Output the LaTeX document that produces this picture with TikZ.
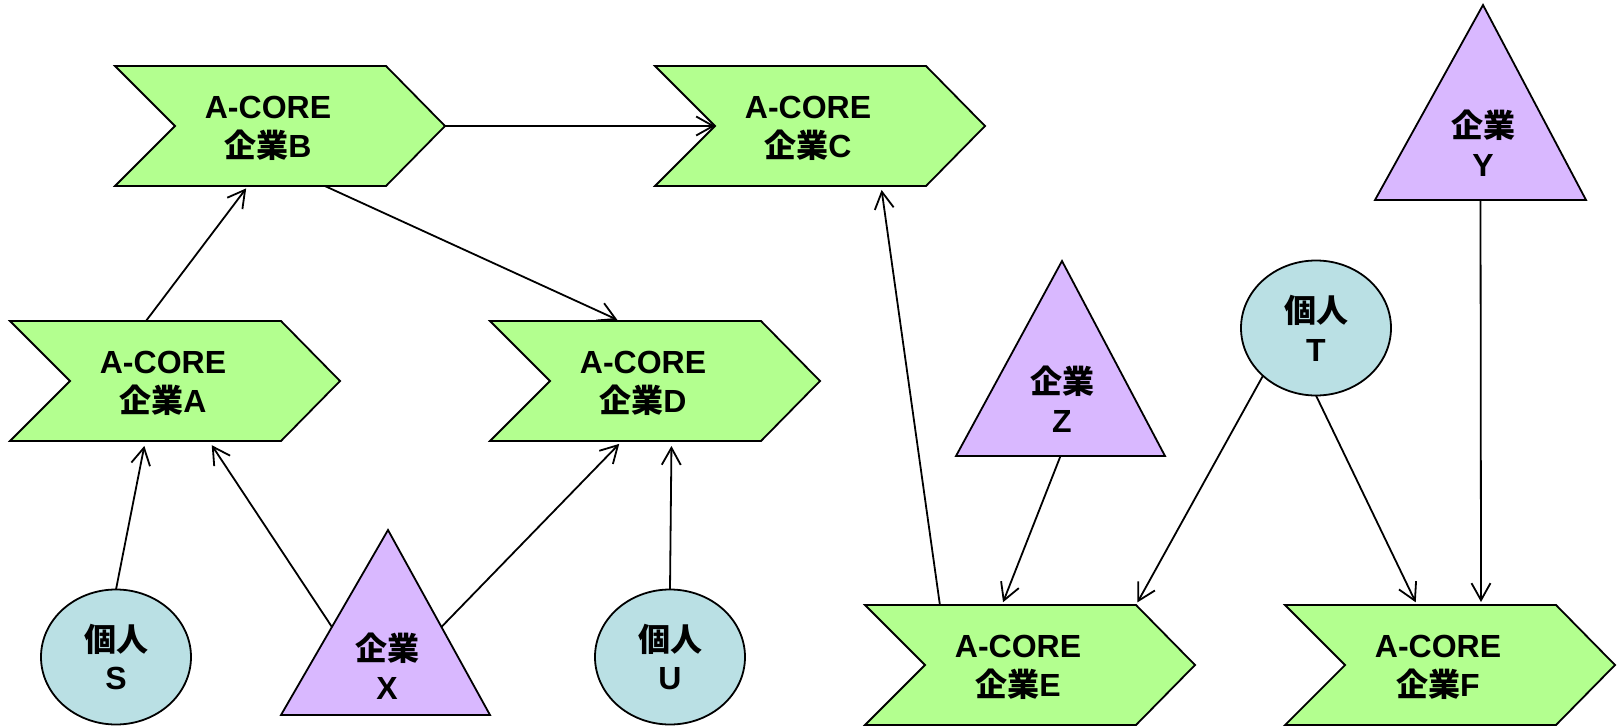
\documentclass[tikz,border=0pt]{standalone}
\usepackage{fontspec}
\setmainfont{Liberation Sans}
\newfontfamily\cjk{Noto Sans CJK JP}
\usetikzlibrary{arrows.meta,calc,shapes.geometric}
\definecolor{chevgreen}{RGB}{179,255,143}
\definecolor{tripurple}{RGB}{217,184,255}
\definecolor{circblue}{RGB}{186,224,228}
\newcommand{\chev}[4]{%
  \node[chevbox] (#1) at (#2,#3) {};
  \filldraw[shapeline, fill=chevgreen] (#1.north west) -- ++(271,0) -- (#1.east) -- ($(#1.south west)+(271,0)$) -- (#1.south west) -- ($(#1.west)+(60,0)$) -- cycle;
  \node[lbl] at ($(#1.center)+(-12,2)$) {A-CORE\\{\cjk 企業}#4};
}
\begin{document}
\begin{tikzpicture}[x=1pt,y=-1pt,line join=miter,
  shapeline/.style={draw=black, line width=1.8pt},
  chevbox/.style={rectangle, minimum width=330pt, minimum height=120pt, inner sep=0pt, outer sep=0pt},
  lbl/.style={align=center, font=\fontsize{32}{39}\selectfont\bfseries, inner sep=0pt},
  person/.style={ellipse, shapeline, fill=circblue, minimum width=150pt, minimum height=135pt, inner sep=0pt, outer sep=0pt, align=center, font=\fontsize{32}{39}\selectfont\bfseries},
  conn/.style={line width=1.8pt, -{Straight Barb[length=17pt,width=19pt]}, shorten >=3pt},
]
\path[use as bounding box, fill=white] (0,0) rectangle (1620,728);

% chevrons
\chev{A}{175}{381}{A}
\chev{B}{280}{126}{B}
\chev{C}{820}{126}{C}
\chev{D}{655}{381}{D}
\chev{E}{1030}{665}{E}
\chev{F}{1450}{665}{F}

% triangles
\coordinate (Xa) at (388,530); \coordinate (Xl) at (281,715); \coordinate (Xr) at (490,715);
\filldraw[shapeline, fill=tripurple] (Xa) -- (Xr) -- (Xl) -- cycle;
\node[lbl] (X) at (387,666) {{\cjk 企業}\\X};

\coordinate (Ya) at (1483,5); \coordinate (Yl) at (1375,200); \coordinate (Yr) at (1586,200);
\filldraw[shapeline, fill=tripurple] (Ya) -- (Yr) -- (Yl) -- cycle;
\node[lbl] (Y) at (1483,143) {{\cjk 企業}\\Y};

\coordinate (Za) at (1062,261); \coordinate (Zl) at (956,456); \coordinate (Zr) at (1165,456);
\filldraw[shapeline, fill=tripurple] (Za) -- (Zr) -- (Zl) -- cycle;
\node[lbl] (Z) at (1062,399) {{\cjk 企業}\\Z};

% persons
\node[person] (S) at (116,657) {{\cjk 個人}\\S};
\node[person] (U) at (670,657) {{\cjk 個人}\\U};
\node[person] (T) at (1316,328) {{\cjk 個人}\\T};

% connectors
\draw[conn] ($(A.north west)!0.412!(A.north east)$) -- ($(B.south west)!0.403!(B.south east)$);
\draw[conn, shorten >=0pt] (B.east) -- ($(C.west)+(60,0)$);
\draw[conn] ($(B.south west)!0.636!(B.south east)$) -- ($(D.north west)!0.394!(D.north east)$);
\draw[conn, shorten >=5pt] (S.north) -- ($(A.south west)!0.41!(A.south east)$);
\draw[conn, shorten >=5pt] ($(Xa)!0.524!(Xl)$) -- ($(A.south west)!0.603!(A.south east)$);
\draw[conn, shorten >=4pt] ($(Xa)!0.524!(Xr)$) -- ($(D.south west)!0.4!(D.south east)$);
\draw[conn, shorten >=5pt] (U.north) -- ($(D.south west)!0.55!(D.south east)$);
\draw[conn, shorten >=4pt] ($(E.north west)!0.227!(E.north east)$) -- ($(C.south west)!0.685!(C.south east)$);
\draw[conn] ($(Zl)!0.5!(Zr)$) -- ($(E.north west)!0.415!(E.north east)$);
\draw[conn] (T.south west) -- ($(E.north west)+(271,0)$);
\draw[conn] (T.south) -- ($(F.north west)!0.4!(F.north east)$);
\draw[conn] ($(Yl)!0.5!(Yr)$) -- ($(F.north west)!0.594!(F.north east)$);
\end{tikzpicture}
\end{document}
